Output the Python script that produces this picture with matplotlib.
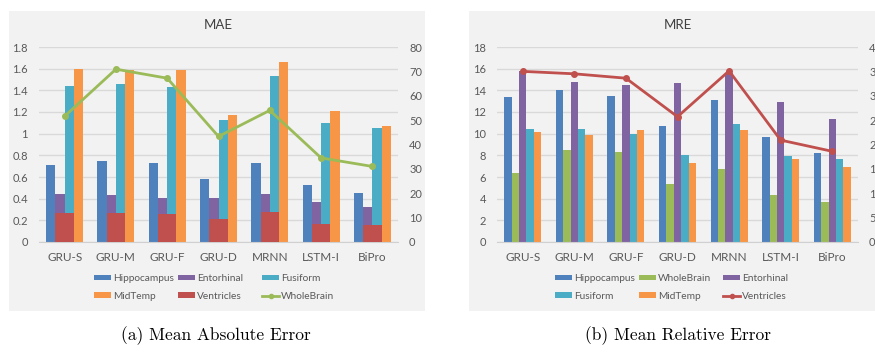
import matplotlib
matplotlib.use("Agg")
import matplotlib.pyplot as plt
import numpy as np
from matplotlib.patches import Rectangle, Patch
from matplotlib.lines import Line2D

plt.rcParams['font.family'] = ['Lato', 'DejaVu Sans']

models = ['GRU-S', 'GRU-M', 'GRU-F', 'GRU-D', 'MRNN', 'LSTM-I', 'BiPro']

# MAE (left panel)
mae_hippocampus = [0.71, 0.75, 0.73, 0.58, 0.73, 0.53, 0.45]
mae_entorhinal = [0.44, 0.43, 0.41, 0.41, 0.44, 0.37, 0.32]
mae_fusiform = [1.44, 1.46, 1.43, 1.13, 1.53, 1.10, 1.05]
mae_midtemp = [1.60, 1.59, 1.59, 1.17, 1.66, 1.21, 1.07]
mae_ventricles = [0.27, 0.27, 0.255, 0.21, 0.28, 0.17, 0.16]
mae_wholebrain = [51.6, 70.9, 67.2, 43.3, 54.0, 34.5, 31.0]

# MRE (right panel)
mre_hippocampus = [13.4, 14.0, 13.45, 10.75, 13.1, 9.72, 8.25]
mre_wholebrain = [6.34, 8.52, 8.3, 5.38, 6.7, 4.3, 3.7]
mre_entorhinal = [15.76, 14.8, 14.53, 14.65, 15.6, 12.9, 11.34]
mre_fusiform = [10.45, 10.45, 9.93, 8.03, 10.85, 7.94, 7.63]
mre_midtemp = [10.2, 9.9, 10.3, 7.3, 10.36, 7.7, 6.92]
mre_ventricles = [35.0, 34.5, 33.6, 25.7, 35.1, 20.9, 18.6]

C_HIP = '#4f81bd'
C_ENT = '#8064a2'
C_FUS = '#4bacc6'
C_MID = '#f79646'
C_VEN = '#c0504d'
C_WB = '#9bbb59'
BG = '#f2f2f2'
GRID = '#d9d9d9'
TXT = '#595959'

W, H = 875, 352
fig = plt.figure(figsize=(W / 100, H / 100), dpi=100)


def fx(px):
    return px / W


def fy(py):
    return 1 - py / H


# panel backgrounds
fig.patches.append(Rectangle((fx(9), fy(311)), fx(416), 300 / H, transform=fig.transFigure,
                             facecolor=BG, edgecolor='none', zorder=-5))
fig.patches.append(Rectangle((fx(469), fy(311)), fx(420), 300 / H, transform=fig.transFigure,
                             facecolor=BG, edgecolor='none', zorder=-5))


def style_axes(ax, ax2, ymax, ystep, y2max, y2step, fmt):
    ax.set_facecolor('none')
    ax.set_ylim(0, ymax)
    ax.set_yticks(np.arange(0, ymax + ystep / 2, ystep))
    ax.set_yticklabels([fmt(v) for v in np.arange(0, ymax + ystep / 2, ystep)])
    ax.yaxis.grid(True, color=GRID, linewidth=1.0)
    ax.set_axisbelow(True)
    for s in ['top', 'left', 'right']:
        ax.spines[s].set_visible(False)
        ax2.spines[s].set_visible(False)
    ax.spines['bottom'].set_color('#d0d0d0')
    ax2.spines['bottom'].set_visible(False)
    ax.tick_params(axis='y', length=0, pad=8, labelsize=8, labelcolor=TXT)
    ax.tick_params(axis='x', length=0, pad=7, labelsize=8.5, labelcolor=TXT)
    ax2.set_ylim(0, y2max)
    ax2.set_yticks(np.arange(0, y2max + 1, y2step))
    ax2.tick_params(axis='y', length=0, pad=8, labelsize=8, labelcolor=TXT)
    ax.set_xlim(-0.5, len(models) - 0.5)
    ax.set_xticks(np.arange(len(models)))
    ax.set_xticklabels(models)


def fmt_mae(v):
    v = round(v, 1)
    if v == int(v):
        return str(int(v))
    return f'{v:.1f}'


x = np.arange(len(models))

# ---------- left: MAE ----------
axL = fig.add_axes([fx(39), fy(242), fx(359), 195 / H])
axL2 = axL.twinx()
w = 0.18
axL.bar(x - 1.5 * w, mae_hippocampus, w, color=C_HIP, zorder=2)
axL.bar(x - 0.5 * w, mae_entorhinal, w, color=C_ENT, zorder=2)
axL.bar(x + 0.5 * w, mae_fusiform, w, color=C_FUS, zorder=2)
axL.bar(x + 1.5 * w, mae_midtemp, w, color=C_MID, zorder=2)
axL.bar(x, mae_ventricles, 2 * w, color=C_VEN, zorder=3)
axL2.plot(x, mae_wholebrain, color=C_WB, linewidth=2, marker='o', markersize=4)
style_axes(axL, axL2, 1.8, 0.2, 80, 10, fmt_mae)
axL.set_title('MAE', fontsize=9.5, color='#404040', pad=13)

# ---------- right: MRE ----------
axR = fig.add_axes([fx(497), fy(242), fx(361), 195 / H])
axR2 = axR.twinx()
w = 0.143
axR.bar(x - 2 * w, mre_hippocampus, w, color=C_HIP, zorder=2)
axR.bar(x - 1 * w, mre_wholebrain, w, color=C_WB, zorder=2)
axR.bar(x, mre_entorhinal, w, color=C_ENT, zorder=2)
axR.bar(x + 1 * w, mre_fusiform, w, color=C_FUS, zorder=2)
axR.bar(x + 2 * w, mre_midtemp, w, color=C_MID, zorder=2)
axR2.plot(x, mre_ventricles, color=C_VEN, linewidth=2, marker='o', markersize=4)
style_axes(axR, axR2, 18, 2, 40, 5, lambda v: str(int(round(v))))
axR.set_title('MRE', fontsize=9.5, color='#404040', pad=13)


def patch(c):
    return Patch(facecolor=c, edgecolor='none')


def line(c):
    return Line2D([], [], color=c, linewidth=2, marker='o', markersize=3)


def legend_col(xpx, handles, labels):
    lg = fig.legend(handles, labels, loc='center left', bbox_to_anchor=(fx(xpx), fy(287.5)),
                    frameon=False, fontsize=7.3, borderpad=0, borderaxespad=0,
                    handlelength=1.7, handleheight=0.5, handletextpad=0.2,
                    labelspacing=0.85)
    for t in lg.get_texts():
        t.set_color(TXT)


legend_col(94, [patch(C_HIP), patch(C_MID)], ['Hippocampus', 'MidTemp'])
legend_col(178, [patch(C_ENT), patch(C_VEN)], ['Entorhinal', 'Ventricles'])
legend_col(262, [patch(C_FUS), line(C_WB)], ['Fusiform', 'WholeBrain'])

legend_col(555, [patch(C_HIP), patch(C_FUS)], ['Hippocampus', 'Fusiform'])
legend_col(639, [patch(C_WB), patch(C_MID)], ['WholeBrain', 'MidTemp'])
legend_col(723, [patch(C_ENT), line(C_VEN)], ['Entorhinal', 'Ventricles'])

# captions
fig.text(fx(216), fy(336), '(a) Mean Absolute Error', fontfamily='cmr10', fontsize=12.5,
         ha='center', va='center')
fig.text(fx(678), fy(336), '(b) Mean Relative Error', fontfamily='cmr10', fontsize=12.5,
         ha='center', va='center')

fig.savefig('out.png', dpi=100, facecolor='white')
